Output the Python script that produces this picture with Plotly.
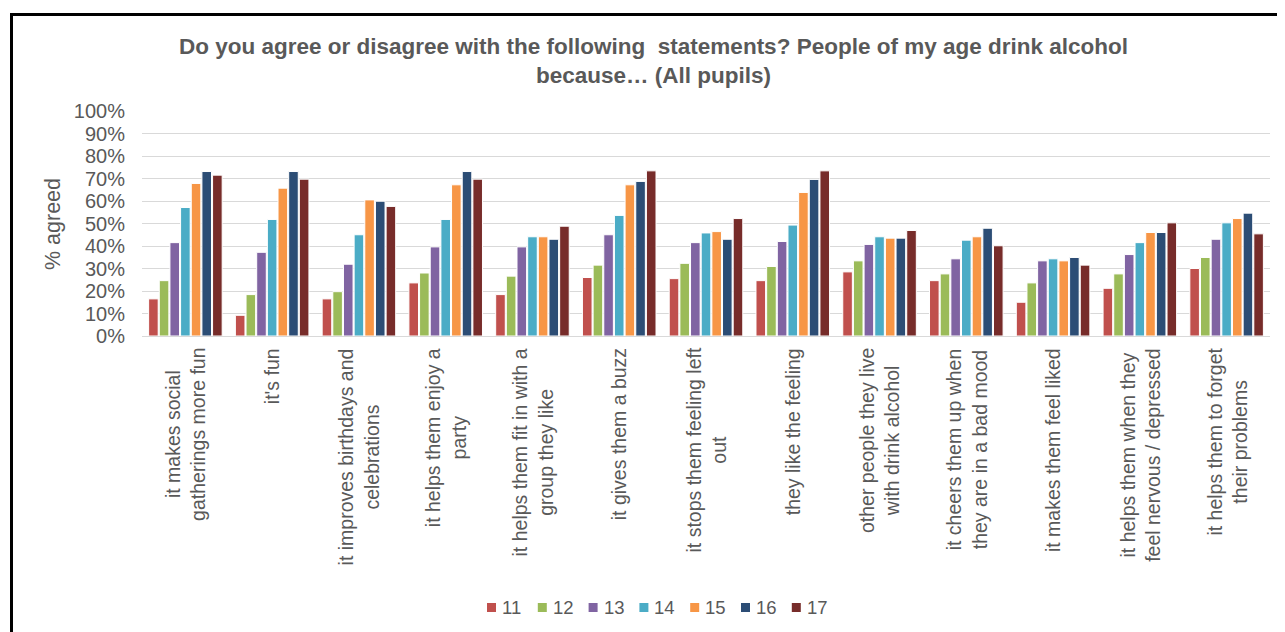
import plotly.graph_objects as go

categories = [
    "it makes social<br>gatherings more fun",
    "it's fun",
    "it improves birthdays and<br>celebrations",
    "it helps them enjoy a<br>party",
    "it helps them fit in with a<br>group they like",
    "it gives them a buzz",
    "it stops them feeling left<br>out",
    "they like the feeling",
    "other people they live<br>with drink alcohol",
    "it cheers them up when<br>they are in a bad mood",
    "it makes them feel liked",
    "it helps them when they<br>feel nervous / depressed",
    "it helps them to forget<br>their problems",
]

age_11 = [16.5, 9.2, 16.5, 23.6, 18.4, 26.0, 25.5, 24.6, 28.5, 24.6, 15.0, 21.2, 30.0]
age_12 = [24.6, 18.4, 19.7, 28.0, 26.6, 31.5, 32.3, 30.9, 33.4, 27.6, 23.6, 27.6, 34.9]
age_13 = [41.5, 37.2, 31.9, 39.6, 39.6, 45.0, 41.5, 42.0, 40.7, 34.3, 33.4, 36.2, 43.0]
age_14 = [57.1, 51.8, 45.0, 51.8, 44.1, 53.6, 45.8, 49.3, 44.1, 42.6, 34.3, 41.5, 50.3]
age_15 = [67.8, 65.7, 60.5, 67.2, 44.1, 67.2, 46.4, 63.8, 43.5, 44.1, 33.4, 46.0, 52.2]
age_16 = [73.1, 73.1, 59.9, 73.1, 43.0, 68.7, 43.0, 69.6, 43.5, 47.9, 34.9, 46.0, 54.6]
age_17 = [71.5, 69.7, 57.6, 69.7, 48.8, 73.4, 52.2, 73.4, 46.9, 40.1, 31.5, 50.3, 45.4]

series_names = ["11", "12", "13", "14", "15", "16", "17"]
series_values = [age_11, age_12, age_13, age_14, age_15, age_16, age_17]
colors = ["#C0504D", "#9BBB59", "#8064A2", "#4BACC6", "#F79646", "#2C4D75", "#772C2A"]

y_ticks = list(range(0, 101, 10))
y_tick_labels = [f"{v}%" for v in y_ticks]

fig = go.Figure()
for name, vals, col in zip(series_names, series_values, colors):
    fig.add_trace(go.Bar(
        x=categories, y=vals, name=name, showlegend=False,
        marker=dict(color=col, line=dict(color="white", width=1)),
    ))

font_family = "Liberation Sans, Arial, sans-serif"
grey = "#595959"

OFF = 8  # page body margin
W, H = 1285, 632
L = 142 - OFF
T = 111 - OFF
pw = 1128
ph = 225
R = W - L - pw
B = H - T - ph


def px_x(p):
    return (p - OFF - L) / pw


def px_y(p):
    return (T + ph - (p - OFF)) / ph


label_annotations = [
    dict(
        text=c, x=c, xref="x", y=px_y(346), yref="paper",
        textangle=-90, showarrow=False, align="center",
        xanchor="center", yanchor="top",
        font=dict(size=19.5, color=grey, family=font_family),
    )
    for c in categories
]

# legend (drawn as swatches + text, Excel style)
leg_x0, leg_pitch, leg_y, sw = 487, 50.8, 607.5, 9
legend_shapes = []
legend_annotations = []
for i, (name, col) in enumerate(zip(series_names, colors)):
    x = leg_x0 + i * leg_pitch
    legend_shapes.append(dict(
        type="rect", xref="paper", yref="paper",
        x0=px_x(x), x1=px_x(x + sw), y0=px_y(leg_y - sw / 2), y1=px_y(leg_y + sw / 2),
        fillcolor=col, line=dict(width=0),
    ))
    legend_annotations.append(dict(
        text=name, xref="paper", yref="paper", x=px_x(x + sw + 4), y=px_y(leg_y),
        xanchor="left", yanchor="middle", showarrow=False,
        font=dict(size=18.5, color=grey, family=font_family),
    ))

fig.update_layout(
    width=W, height=H,
    margin=dict(l=L, r=R, t=T, b=B, autoexpand=False),
    paper_bgcolor="white", plot_bgcolor="white",
    barmode="group", bargap=0.14, bargroupgap=0.1,
    font=dict(family=font_family, color=grey),
    title=dict(
        text="Do you agree or disagree with the following  statements? People of my age drink alcohol<br>because… (All pupils)",
        x=(653.5 - OFF) / W, xref="container", xanchor="center",
        y=1 - (54 - OFF) / H, yref="container", yanchor="top",
        font=dict(size=22.5, family=font_family, color=grey, weight="bold"),
    ),
    xaxis=dict(
        showticklabels=False,
        showgrid=False, showline=True, linecolor="#D9D9D9", linewidth=1,
        automargin=False, ticks="",
    ),
    yaxis=dict(
        range=[0, 100], tickvals=y_ticks, ticktext=y_tick_labels,
        tickfont=dict(size=20, color=grey),
        showgrid=True, gridcolor="#D9D9D9", gridwidth=1,
        zeroline=False, showline=False, automargin=False,
        ticklabelstandoff=16,
    ),
    showlegend=False,
    annotations=label_annotations + legend_annotations + [dict(
        text="% agreed", textangle=-90, showarrow=False,
        xref="paper", yref="paper", x=px_x(53), y=px_y(224),
        xanchor="center", yanchor="middle",
        font=dict(size=21.5, color=grey, family=font_family),
    )],
    shapes=legend_shapes + [
        dict(type="line", xref="paper", yref="paper",
             x0=px_x(10), x1=px_x(1300), y0=px_y(14.5), y1=px_y(14.5),
             line=dict(color="black", width=3)),
        dict(type="line", xref="paper", yref="paper",
             x0=px_x(11.5), x1=px_x(11.5), y0=px_y(13), y1=px_y(660),
             line=dict(color="black", width=3)),
    ],
)

fig.write_html("out.html")
